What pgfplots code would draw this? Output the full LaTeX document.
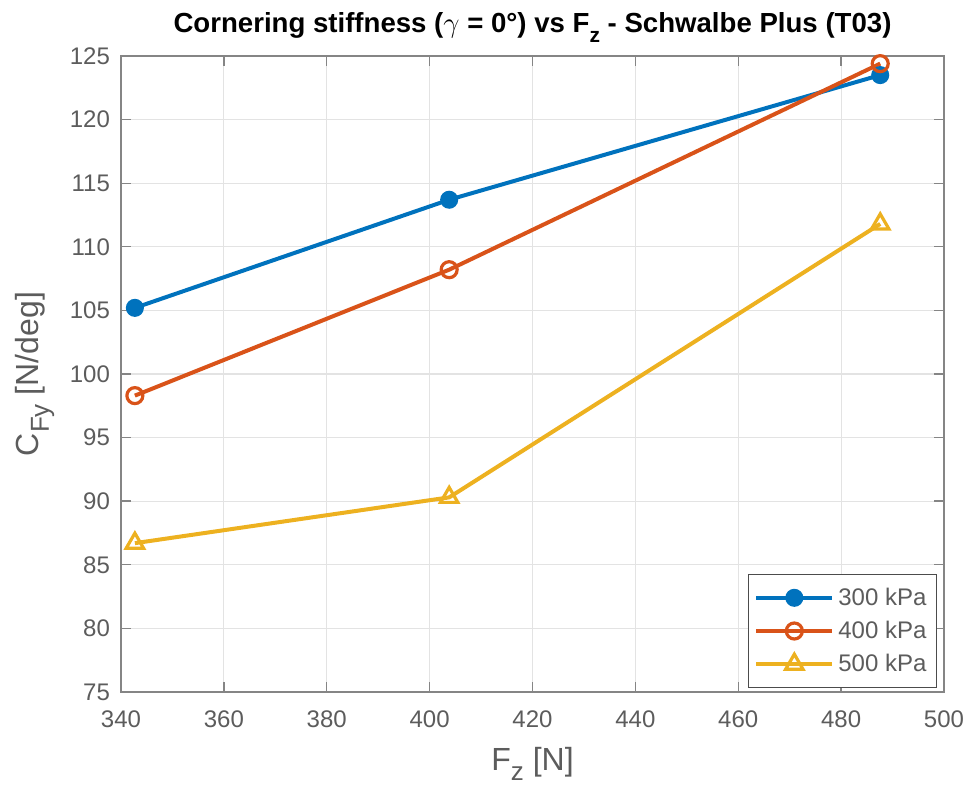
\documentclass[border=0pt]{standalone}
\usepackage{fontspec}
\setmainfont{Liberation Sans}
\usepackage{pgfplots}
\pgfplotsset{compat=1.18}
\definecolor{mblue}{rgb}{0,0.447,0.741}
\definecolor{mred}{rgb}{0.85,0.325,0.098}
\definecolor{myellow}{rgb}{0.929,0.694,0.125}
\definecolor{mtext}{rgb}{0.36,0.36,0.36}
\definecolor{maxis}{rgb}{0.52,0.52,0.52}
% MATLAB-style low subscript
\newcommand{\msub}[1]{\raisebox{-5pt}{\fontsize{13}{14}\selectfont #1}}
\begin{document}
\begin{tikzpicture}
\useasboundingbox (0,0) rectangle (482.5pt,393pt);
\begin{axis}[
    at={(60.5pt,47pt)}, anchor=south west,
    scale only axis,
    width=411.5pt, height=318pt,
    xmin=340, xmax=500, ymin=75, ymax=125,
    xtick={340,360,...,500},
    ytick={75,80,...,125},
    grid=major,
    grid style={gray!22, line width=0.6pt},
    axis line style={maxis, line width=0.7pt},
    tick style={maxis, line width=0.7pt},
    tick align=inside,
    major tick length=5pt,
    tick label style={font=\fontsize{12}{14}\selectfont, text=mtext},
    xticklabel style={yshift=-6pt},
    yticklabel style={xshift=-2pt},
    /pgf/number format/assume math mode=true,
    xlabel={F\msub{z} [N]},
    ylabel={C\msub{Fy} [N/deg]},
    label style={font=\fontsize{16}{18}\selectfont, text=mtext},
    xlabel style={yshift=-3pt},
    ylabel style={yshift=1pt},
    title={\textbf{Cornering stiffness ($\gamma$ = 0°) vs F\raisebox{-5pt}{\fontsize{10.5}{12}\selectfont z} - Schwalbe Plus (T03)}},
    title style={font=\fontsize{13.8}{15}\selectfont, text=black, yshift=-3pt},
    legend style={at={(1,0)}, anchor=south east, xshift=-3.5pt, yshift=2pt,
        font=\fontsize{12}{14}\selectfont, text=mtext, draw=gray!60!black,
        line width=0.6pt, row sep=2.4pt, inner xsep=3pt, inner ysep=4.5pt},
    legend cell align=left,
    legend image code/.code={
        \draw[mark repeat=2,mark phase=2] plot coordinates {(0pt,0pt)(19pt,0pt)(38pt,0pt)};
    },
]
\addplot[mblue, line width=2pt, mark=*, mark size=3.5pt, mark options={solid, fill=mblue}]
    coordinates {(342.7,105.2) (403.8,113.7) (487.6,123.5)};
\addlegendentry{300 kPa}
\addplot[mred, line width=2pt, mark=o, mark size=4pt, mark options={solid, line width=1.6pt}]
    coordinates {(342.7,98.3) (403.8,108.2) (487.6,124.4)};
\addlegendentry{400 kPa}
\addplot[myellow, line width=2pt, mark=triangle, mark size=5pt, mark options={solid, line width=1.6pt}]
    coordinates {(342.7,86.7) (403.8,90.3) (487.6,111.8)};
\addlegendentry{500 kPa}
\end{axis}
\end{tikzpicture}
\end{document}
